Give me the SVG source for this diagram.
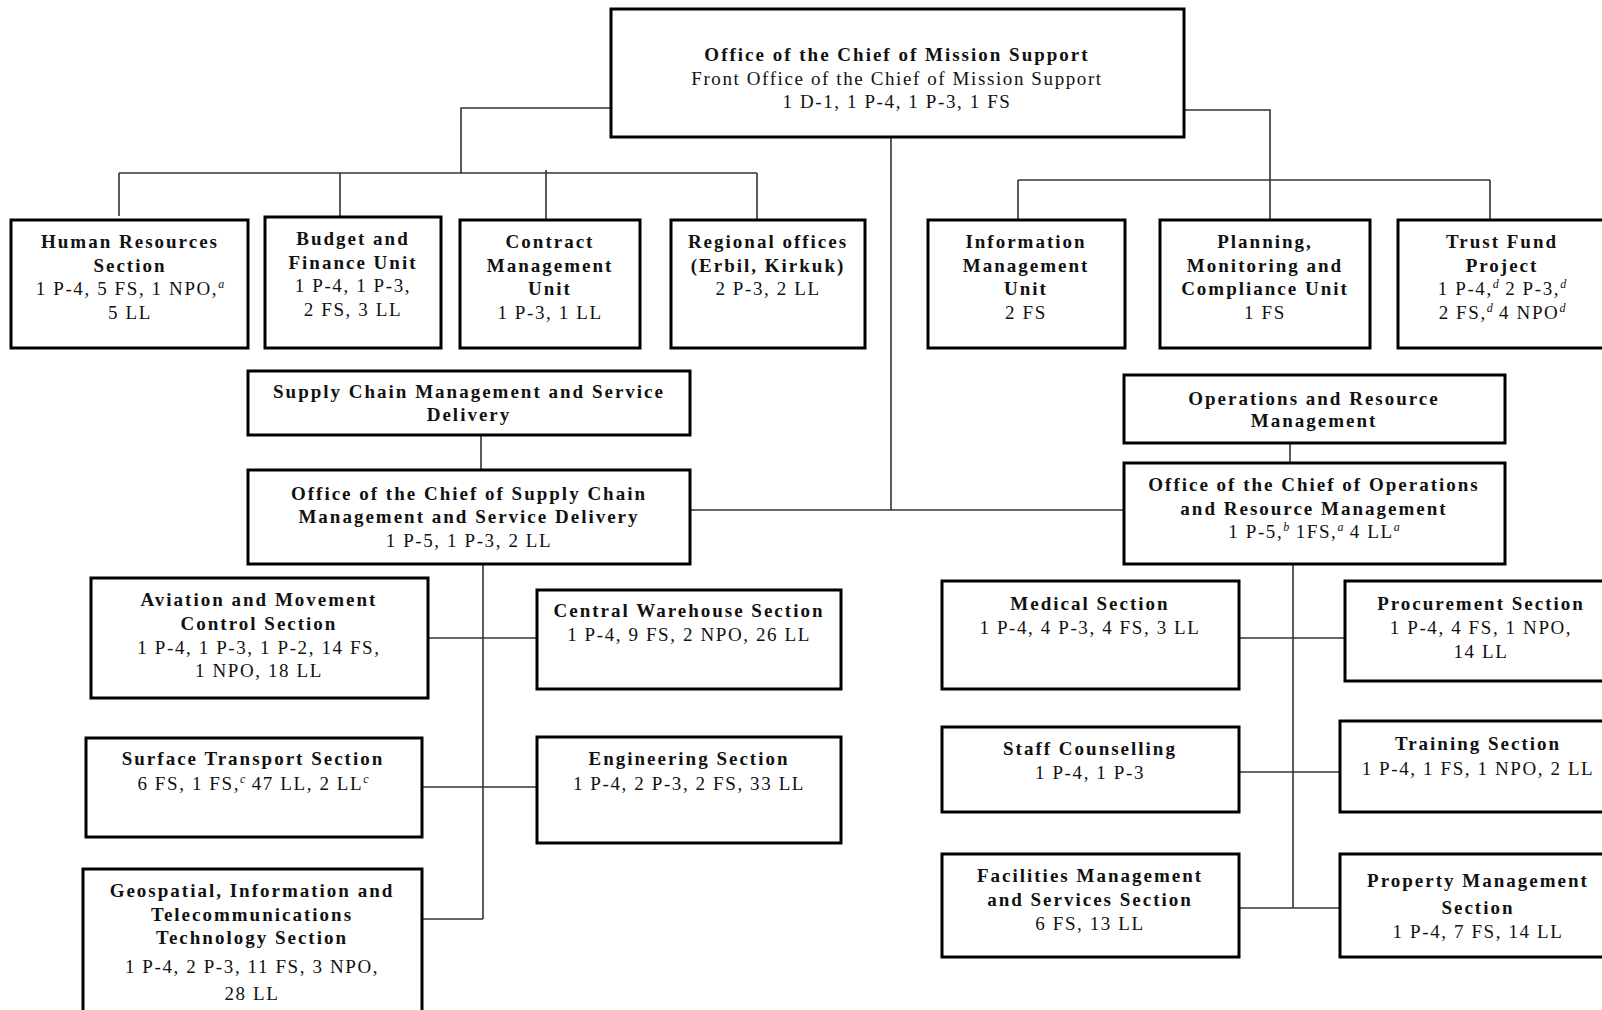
<svg xmlns="http://www.w3.org/2000/svg" width="1602" height="1010" viewBox="0 0 1602 1010">
<style>
.box{fill:#fff;stroke:#000;stroke-width:3}
.b{font-family:"Liberation Serif",serif;font-weight:bold;font-size:19px;letter-spacing:2px;text-anchor:middle;fill:#111}
.r{font-family:"Liberation Serif",serif;font-size:19px;letter-spacing:1.6px;text-anchor:middle;fill:#111}
.sup{font-style:italic;font-size:12px;letter-spacing:0}
.conn line,.conn polyline{stroke:#333;stroke-width:1.6;fill:none}
</style>
<rect width="1602" height="1010" fill="#fff"/>
<g class="conn" id="connectors">
<polyline points="611,108 461,108 461,173"/>
<line x1="119" y1="173" x2="757" y2="173"/>
<line x1="119" y1="173" x2="119" y2="216"/>
<line x1="340" y1="173" x2="340" y2="217"/>
<line x1="546" y1="170" x2="546" y2="220"/>
<line x1="757" y1="173" x2="757" y2="220"/>
<polyline points="1184,110 1270,110 1270,220"/>
<line x1="1018" y1="180" x2="1490" y2="180"/>
<line x1="1018" y1="180" x2="1018" y2="220"/>
<line x1="1490" y1="180" x2="1490" y2="220"/>
<line x1="891" y1="138" x2="891" y2="510"/>
<line x1="690" y1="510" x2="1124" y2="510"/>
<line x1="481" y1="435" x2="481" y2="470"/>
<line x1="1290" y1="443" x2="1290" y2="463"/>
<line x1="483" y1="564" x2="483" y2="919"/>
<line x1="428" y1="638" x2="537" y2="638"/>
<line x1="422" y1="787" x2="537" y2="787"/>
<line x1="422" y1="919" x2="483" y2="919"/>
<line x1="1293" y1="564" x2="1293" y2="908"/>
<line x1="1239" y1="638" x2="1345" y2="638"/>
<line x1="1239" y1="772" x2="1340" y2="772"/>
<line x1="1239" y1="908" x2="1340" y2="908"/>
</g>
<g id="chief-mission-support">
<rect class="box" x="611" y="9" width="573" height="128"/>
<text class="b" x="897" y="61">Office of the Chief of Mission Support</text>
<text class="r" x="897" y="85">Front Office of the Chief of Mission Support</text>
<text class="r" x="897" y="108">1 D-1, 1 P-4, 1 P-3, 1 FS</text>
</g>
<g id="human-resources">
<rect class="box" x="11" y="220" width="237" height="128"/>
<text class="b" x="130" y="248">Human Resources</text>
<text class="b" x="130" y="272">Section</text>
<text class="r" x="130" y="295">1 P-4, 5 FS, 1 NPO,<tspan class="sup" dy="-7">a</tspan></text>
<text class="r" x="130" y="319">5 LL</text>
</g>
<g id="budget-finance">
<rect class="box" x="265" y="217" width="176" height="131"/>
<text class="b" x="353" y="245">Budget and</text>
<text class="b" x="353" y="269">Finance Unit</text>
<text class="r" x="353" y="292">1 P-4, 1 P-3,</text>
<text class="r" x="353" y="316">2 FS, 3 LL</text>
</g>
<g id="contract-management">
<rect class="box" x="460" y="220" width="180" height="128"/>
<text class="b" x="550" y="248">Contract</text>
<text class="b" x="550" y="272">Management</text>
<text class="b" x="550" y="295">Unit</text>
<text class="r" x="550" y="319">1 P-3, 1 LL</text>
</g>
<g id="regional-offices">
<rect class="box" x="671" y="220" width="194" height="128"/>
<text class="b" x="768" y="248">Regional offices</text>
<text class="b" x="768" y="272">(Erbil, Kirkuk)</text>
<text class="r" x="768" y="295">2 P-3, 2 LL</text>
</g>
<g id="information-management">
<rect class="box" x="928" y="220" width="197" height="128"/>
<text class="b" x="1026" y="248">Information</text>
<text class="b" x="1026" y="272">Management</text>
<text class="b" x="1026" y="295">Unit</text>
<text class="r" x="1026" y="319">2 FS</text>
</g>
<g id="planning-monitoring">
<rect class="box" x="1160" y="220" width="210" height="128"/>
<text class="b" x="1265" y="248">Planning,</text>
<text class="b" x="1265" y="272">Monitoring and</text>
<text class="b" x="1265" y="295">Compliance Unit</text>
<text class="r" x="1265" y="319">1 FS</text>
</g>
<g id="trust-fund">
<rect class="box" x="1398" y="220" width="210" height="128"/>
<text class="b" x="1502" y="248">Trust Fund</text>
<text class="b" x="1502" y="272">Project</text>
<text class="r" x="1502" y="295">1 P-4,<tspan class="sup" dy="-7">d</tspan><tspan dy="7"> 2 P-3,</tspan><tspan class="sup" dy="-7">d</tspan></text>
<text class="r" x="1502" y="319">2 FS,<tspan class="sup" dy="-7">d</tspan><tspan dy="7"> 4 NPO</tspan><tspan class="sup" dy="-7">d</tspan></text>
</g>
<g id="supply-chain">
<rect class="box" x="248" y="371" width="442" height="64"/>
<text class="b" x="469" y="398">Supply Chain Management and Service</text>
<text class="b" x="469" y="421">Delivery</text>
</g>
<g id="office-supply-chain">
<rect class="box" x="248" y="470" width="442" height="94"/>
<text class="b" x="469" y="500">Office of the Chief of Supply Chain</text>
<text class="b" x="469" y="523">Management and Service Delivery</text>
<text class="r" x="469" y="547">1 P-5, 1 P-3, 2 LL</text>
</g>
<g id="operations-resource">
<rect class="box" x="1124" y="375" width="381" height="68"/>
<text class="b" x="1314" y="405">Operations and Resource</text>
<text class="b" x="1314" y="427">Management</text>
</g>
<g id="office-operations">
<rect class="box" x="1124" y="463" width="381" height="101"/>
<text class="b" x="1314" y="491">Office of the Chief of Operations</text>
<text class="b" x="1314" y="515">and Resource Management</text>
<text class="r" x="1314" y="538">1 P-5,<tspan class="sup" dy="-7">b</tspan><tspan dy="7"> 1FS,</tspan><tspan class="sup" dy="-7">a</tspan><tspan dy="7"> 4 LL</tspan><tspan class="sup" dy="-7">a</tspan></text>
</g>
<g id="aviation">
<rect class="box" x="91" y="578" width="337" height="120"/>
<text class="b" x="259" y="606">Aviation and Movement</text>
<text class="b" x="259" y="630">Control Section</text>
<text class="r" x="259" y="654">1 P-4, 1 P-3, 1 P-2, 14 FS,</text>
<text class="r" x="259" y="677">1 NPO, 18 LL</text>
</g>
<g id="central-warehouse">
<rect class="box" x="537" y="590" width="304" height="99"/>
<text class="b" x="689" y="617">Central Warehouse Section</text>
<text class="r" x="689" y="641">1 P-4, 9 FS, 2 NPO, 26 LL</text>
</g>
<g id="surface-transport">
<rect class="box" x="86" y="738" width="336" height="99"/>
<text class="b" x="253" y="765">Surface Transport Section</text>
<text class="r" x="253" y="790">6 FS, 1 FS,<tspan class="sup" dy="-7">c</tspan><tspan dy="7"> 47 LL, 2 LL</tspan><tspan class="sup" dy="-7">c</tspan></text>
</g>
<g id="engineering">
<rect class="box" x="537" y="737" width="304" height="106"/>
<text class="b" x="689" y="765">Engineering Section</text>
<text class="r" x="689" y="790">1 P-4, 2 P-3, 2 FS, 33 LL</text>
</g>
<g id="geospatial">
<rect class="box" x="83" y="869" width="339" height="150"/>
<text class="b" x="252" y="897">Geospatial, Information and</text>
<text class="b" x="252" y="921">Telecommunications</text>
<text class="b" x="252" y="944">Technology Section</text>
<text class="r" x="252" y="973">1 P-4, 2 P-3, 11 FS, 3 NPO,</text>
<text class="r" x="252" y="1000">28 LL</text>
</g>
<g id="medical">
<rect class="box" x="942" y="581" width="297" height="108"/>
<text class="b" x="1090" y="610">Medical Section</text>
<text class="r" x="1090" y="634">1 P-4, 4 P-3, 4 FS, 3 LL</text>
</g>
<g id="procurement">
<rect class="box" x="1345" y="581" width="265" height="100"/>
<text class="b" x="1481" y="610">Procurement Section</text>
<text class="r" x="1481" y="634">1 P-4, 4 FS, 1 NPO,</text>
<text class="r" x="1481" y="658">14 LL</text>
</g>
<g id="staff-counselling">
<rect class="box" x="942" y="727" width="297" height="85"/>
<text class="b" x="1090" y="755">Staff Counselling</text>
<text class="r" x="1090" y="779">1 P-4, 1 P-3</text>
</g>
<g id="training">
<rect class="box" x="1340" y="721" width="270" height="91"/>
<text class="b" x="1478" y="750">Training Section</text>
<text class="r" x="1478" y="775">1 P-4, 1 FS, 1 NPO, 2 LL</text>
</g>
<g id="facilities">
<rect class="box" x="942" y="854" width="297" height="103"/>
<text class="b" x="1090" y="882">Facilities Management</text>
<text class="b" x="1090" y="906">and Services Section</text>
<text class="r" x="1090" y="930">6 FS, 13 LL</text>
</g>
<g id="property">
<rect class="box" x="1340" y="854" width="270" height="103"/>
<text class="b" x="1478" y="887">Property Management</text>
<text class="b" x="1478" y="914">Section</text>
<text class="r" x="1478" y="938">1 P-4, 7 FS, 14 LL</text>
</g>
</svg>
